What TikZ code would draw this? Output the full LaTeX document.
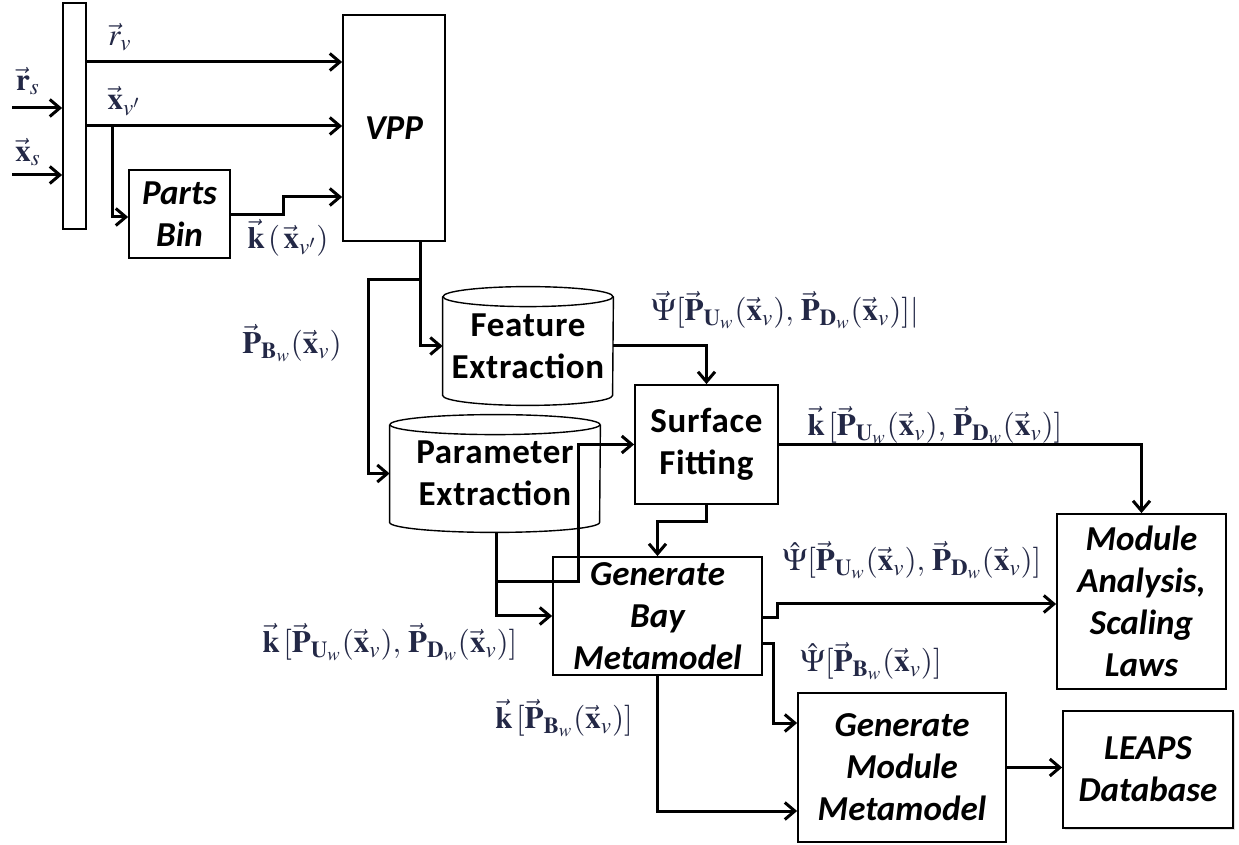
\documentclass[tikz,border=0pt]{standalone}
\usepackage{mathptmx}
\usepackage[no-math]{fontspec}
\newfontfamily\boxfont{Carlito}
\newfontfamily\cylfont[LetterSpace=2]{Carlito}
\usetikzlibrary{arrows.meta,shadows}
\definecolor{lblcol}{RGB}{35,40,70}
\newcommand\vx{\vec{\mathbf{x}}_{v}}
\newcommand\PUD{\vec{\mathbf{P}}_{\mathbf{U}_w}(\vx),\,\vec{\mathbf{P}}_{\mathbf{D}_w}(\vx)}
\tikzset{
  blk/.style={draw, line width=0.9pt, inner sep=0pt, align=center, font=\cylfont\fontsize{17.5}{21}\selectfont\bfseries},
  blkit/.style={blk, font=\boxfont\fontsize{17.5}{21}\selectfont\bfseries\itshape},
  cylbox/.style={inner sep=0pt, align=center, font=\cylfont\fontsize{17.5}{21}\selectfont\bfseries},
  conn/.style={line width=1.5pt, -{Straight Barb[length=5pt,width=8.5pt]}},
  lab/.style={text=lblcol, inner sep=0pt, font=\fontsize{15.5}{18}\selectfont}
}
\begin{document}
\begin{tikzpicture}[x=0.5pt,y=-0.5pt]
\useasboundingbox (0,0) rectangle (1239,845);
\node[blk, minimum width=11.5pt, minimum height=113pt] (bar) at (74.5,116) {};
\node[blkit, minimum width=51pt, minimum height=113pt] (vpp) at (394,128) {VPP};
\node[blkit, minimum width=50.5pt, minimum height=44pt] (parts) at (179.5,214) {Parts\\Bin};
\node[cylbox, minimum width=85pt, minimum height=59pt] (feat) at (528,346) {Feature\\Extraction};
\node[cylbox, minimum width=105pt, minimum height=58.5pt] (param) at (495,473.5) {Parameter\\Extraction};
\node[blk, minimum width=71.5pt, minimum height=59.5pt] (surf) at (706.5,444.5) {Surface\\Fitting};
\node[blkit, minimum width=104.5pt, minimum height=59pt] (bay) at (657.5,616) {Generate\\Bay\\Metamodel};
\node[blkit, minimum width=84.5pt, minimum height=87.5pt] (mod) at (1141.5,601.5) {Module\\Analysis,\\Scaling\\Laws};
\node[blkit, minimum width=104pt, minimum height=74.5pt] (genmod) at (902,767.5) {Generate\\Module\\Metamodel};
\node[blkit, fill=white, drop shadow={opacity=0.25, shadow xshift=1pt, shadow yshift=-1pt}, minimum width=85pt, minimum height=58.5pt] (leaps) at (1148,769.5) {LEAPS\\Database};
\foreach \c/\r in {feat/42.5pt, param/52.5pt} {
  \draw[line width=0.7pt] ([yshift=-5pt]\c.north) ellipse [x radius=\r, y radius=5pt];
  \draw[line width=0.7pt] ([yshift=-5pt]\c.north west) -- ([yshift=5pt]\c.south west) arc [start angle=180, end angle=360, x radius=\r, y radius=5pt] -- ([yshift=-5pt]\c.north east);
}
\coordinate (rsin) at (12,108);
\coordinate (xsin) at (12,175);
\coordinate (xbr) at (112,126);
\coordinate (vbr) at (420,280);
\coordinate (pbr) at (496,582);
\draw[conn] (rsin) -- (rsin -| bar.west);
\draw[conn] (xsin) -- (xsin -| bar.west);
\draw[conn] (bar.east |- 0,62) -- (vpp.west |- 0,62);
\draw[conn] (bar.east |- xbr) -- (vpp.west |- xbr);
\draw[conn] (xbr) |- (parts.west |- 0,217);
\draw[conn] (parts.east |- 0,215) -- (283,215) |- (vpp.west |- 0,197);
\draw[conn] (vpp.south -| vbr) |- (feat.west);
\draw[conn] (vbr) -- (368,280) |- (param.west);
\draw[conn] (feat.east) -| (surf.north);
\draw[conn] (param.south -| pbr) |- (bay.west);
\draw[conn] (pbr) -- (578,582) |- (surf.west);
\draw[conn] (surf.south) -- ++(0,17) -| (bay.north);
\draw[conn] (surf.east) -| (mod.north);
\draw[conn] (bay.east |- 0,618) -- (777,618) |- (mod.west |- 0,604);
\draw[conn] (bay.east |- 0,644) -- (773,644) |- (genmod.west |- 0,723);
\draw[conn] (bay.south) |- (genmod.west |- 0,811);
\draw[conn] (genmod.east) -- (genmod.east -| leaps.west);
\node[lab] (lrs) at (28,81) {$\vec{\mathbf{r}}_{s}$};
\node[lab] (lxs) at (28,152) {$\vec{\mathbf{x}}_{s}$};
\node[lab] (lrv) at (120,37) {$\vec{r}_{v}$};
\node[lab] (lxv) at (124,101) {$\vec{\mathbf{x}}_{v'}$};
\node[lab] (lkxv) at (288,238) {$\vec{\mathbf{k}}\,(\,\vec{\mathbf{x}}_{v'})$};
\node[lab] (lpb) at (292,343) {$\vec{\mathbf{P}}_{\mathbf{B}_w}(\vx)$};
\node[lab] (lpsi) at (785,310) {$\vec{\Psi}[\PUD]|$};
\node[lab] (lksf) at (935,425) {$\vec{\mathbf{k}}\,[\PUD]$};
\node[lab] (lpsih) at (912,560) {$\hat{\Psi}[\PUD]$};
\node[lab] (lpsihb) at (871,661) {$\hat{\Psi}[\vec{\mathbf{P}}_{\mathbf{B}_w}(\vx)]$};
\node[lab] (lkbay) at (390,642) {$\vec{\mathbf{k}}\,[\PUD]$};
\node[lab] (lkpb) at (564,718) {$\vec{\mathbf{k}}\,[\vec{\mathbf{P}}_{\mathbf{B}_w}(\vx)]$};
\end{tikzpicture}
\end{document}
